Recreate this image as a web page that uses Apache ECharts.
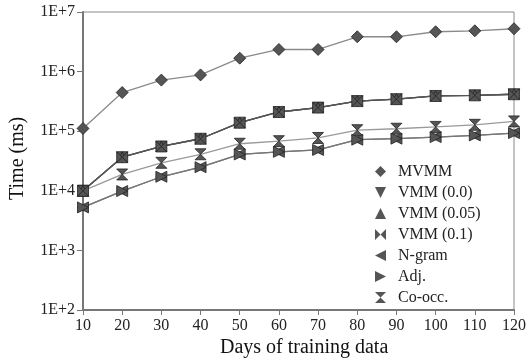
<!DOCTYPE html>
<html><head><meta charset="utf-8">
<script src="https://cdn.jsdelivr.net/npm/echarts@6/dist/echarts.min.js"></script>
<style>html,body{margin:0;padding:0;background:#fff}#c{width:530px;height:363px}</style>
</head><body><div id="c"></div>
<script>
var days = ['10','20','30','40','50','60','70','80','90','100','110','120'];
var mvmm   = [1.11e5, 4.45e5, 7.2e5, 8.8e5, 1.68e6, 2.35e6, 2.35e6, 3.84e6, 3.84e6, 4.66e6, 4.84e6, 5.24e6];
var vmm00  = [1.0e4, 3.66e4, 5.55e4, 7.47e4, 1.39e5, 2.1e5, 2.49e5, 3.2e5, 3.45e5, 3.9e5, 4.0e5, 4.17e5];
var vmm005 = [1.0e4, 3.66e4, 5.55e4, 7.47e4, 1.39e5, 2.1e5, 2.49e5, 3.2e5, 3.45e5, 3.9e5, 4.0e5, 4.17e5];
var vmm01  = [1.0e4, 3.66e4, 5.55e4, 7.47e4, 1.39e5, 2.1e5, 2.49e5, 3.2e5, 3.45e5, 3.9e5, 4.0e5, 4.17e5];
var ngram  = [5.27e3, 9.9e3, 1.72e4, 2.49e4, 4.07e4, 4.5e4, 4.85e4, 7.2e4, 7.5e4, 7.96e4, 8.5e4, 9.3e4];
var adj    = [5.27e3, 9.9e3, 1.72e4, 2.49e4, 4.07e4, 4.5e4, 4.85e4, 7.2e4, 7.5e4, 7.96e4, 8.5e4, 9.3e4];
var cooc   = [1.0e4, 1.88e4, 2.95e4, 4.1e4, 6.16e4, 6.8e4, 7.7e4, 1.04e5, 1.1e5, 1.18e5, 1.28e5, 1.46e5];
var yTickLabels = {2:'1E+2',3:'1E+3',4:'1E+4',5:'1E+5',6:'1E+6',7:'1E+7'};

var SYM = {
  diamond: 'path://M5,0L10,5L5,10L0,5Z',
  down: 'path://M0,0L10,0L5,10Z',
  up: 'path://M5,0L10,10L0,10Z',
  bowtie: 'path://M0,0L5,5L0,10Z M10,0L5,5L10,10Z',
  left: 'path://M10,0L0,5L10,10Z',
  right: 'path://M0,0L10,5L0,10Z',
  hourglass: 'path://M0,0L10,0L5,5Z M0,10L10,10L5,5Z'
};
var FILL = '#555', STROKE = '#222';
function mk(name, data, sym, lineColor, z, size) {
  return {
    name: name, type: 'line', data: data, symbol: sym, symbolSize: size || 11,
    showAllSymbol: true, z: z, animation: false,
    lineStyle: { color: lineColor, width: 1.3 },
    itemStyle: { color: FILL, borderColor: STROKE, borderWidth: 0.8 }
  };
}
var chart = echarts.init(document.getElementById('c'));
var font = 'Liberation Serif';
chart.setOption({
  backgroundColor: '#fff',
  animation: false,
  grid: { left: 83, right: 16, top: 12, bottom: 53, show: true, borderColor: '#8a8a8a', borderWidth: 1 },
  xAxis: {
    type: 'category', data: days, boundaryGap: false,
    axisLine: { lineStyle: { color: '#777', width: 2 } },
    axisTick: { alignWithLabel: true, length: 5, lineStyle: { color: '#777' } },
    axisLabel: { color: '#222', fontFamily: font, fontSize: 16, margin: 8 },
    splitLine: { show: false }
  },
  yAxis: {
    type: 'log', logBase: 10, min: 100, max: 1e7,
    axisLine: { show: true, lineStyle: { color: '#777', width: 2 } },
    axisTick: { show: true, length: 6, lineStyle: { color: '#777' } },
    axisLabel: { color: '#222', fontFamily: font, fontSize: 16, margin: 8,
      formatter: function (v) { var e = Math.round(Math.log10(v)); return yTickLabels[e] || ''; } },
    splitLine: { show: false },
    minorTick: { show: false }
  },
  legend: {
    orient: 'vertical', left: 375, top: 163, itemWidth: 11, itemHeight: 11, itemGap: 4, padding: 0,
    textStyle: { fontFamily: font, fontSize: 16, lineHeight: 17, color: '#222', padding: [0,0,0,7] },
    data: [
      { name: 'MVMM', icon: SYM.diamond },
      { name: 'VMM (0.0)', icon: SYM.down },
      { name: 'VMM (0.05)', icon: SYM.up },
      { name: 'VMM (0.1)', icon: SYM.bowtie },
      { name: 'N-gram', icon: SYM.left },
      { name: 'Adj.', icon: SYM.right },
      { name: 'Co-occ.', icon: SYM.hourglass }
    ],
    itemStyle: { color: FILL, borderWidth: 0 }
  },
  graphic: [
    { type: 'text', left: 220, top: 338, style: { text: 'Days of training data', font: '20px "Liberation Serif"', fill: '#111' } },
    { type: 'text', x: 8, y: 200, rotation: Math.PI / 2, style: { text: 'Time (ms)', font: '20px "Liberation Serif"', fill: '#111' } }
  ],
  series: [
    mk('MVMM', mvmm, SYM.diamond, '#8a8a8a', 10, 12),
    mk('VMM (0.0)', vmm00, SYM.down, '#555', 11),
    mk('VMM (0.05)', vmm005, SYM.up, '#555', 11),
    mk('VMM (0.1)', vmm01, SYM.bowtie, '#555', 11),
    mk('N-gram', ngram, SYM.left, '#777', 9),
    mk('Adj.', adj, SYM.right, '#777', 9),
    mk('Co-occ.', cooc, SYM.hourglass, '#999', 8)
  ]
});
</script></body></html>
